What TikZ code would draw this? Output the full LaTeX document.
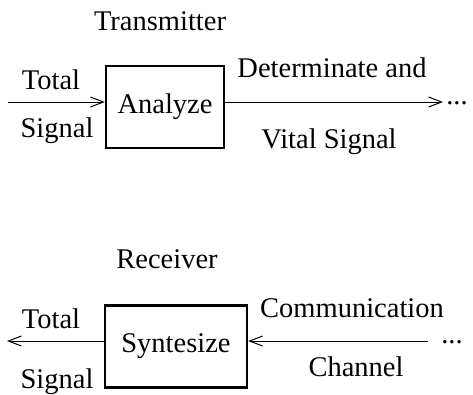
\documentclass[tikz,border=0pt]{standalone}
\usepackage{fontspec}
\setmainfont{Liberation Serif}
\usetikzlibrary{arrows.meta}
\begin{document}
\begin{tikzpicture}[x=1pt,y=-1pt,line width=1pt,
                >={Straight Barb[length=13pt,width=10pt]},
                every node/.style={font=\fontsize{28.5}{34}\selectfont},
                block/.style={draw,line width=2.4pt,minimum width=#1,minimum height=82pt,inner sep=0pt},
                lbl/.style={anchor=base}]
                \useasboundingbox (0,0) rectangle (473,394);

                % transmitter
                \node[lbl] (tx) at(160,30) {Transmitter};
                \node[block=118pt] (analyze) at(165,107) {Analyze};
                \coordinate (tin) at(8,102);
                \coordinate (tout) at(443,102);
                \draw[->](tin)--(tin -| analyze.west);
                \draw[->](analyze.east |- tout)--(tout);
                \node[lbl] (tdots) at(457,104) {...};
                \node[lbl] (ttotal) at(51,89) {Total};
                \node[lbl] (tsignal) at(57,137) {Signal};
                \node[lbl] (det) at(332,77) {Determinate and};
                \node[lbl] (vital) at(329,148) {Vital Signal};

                % receiver
                \node[lbl] (rx) at(167,268) {Receiver};
                \node[block=142pt] (syntesize) at(176,346.5) {Syntesize};
                \coordinate (rin) at(428,341);
                \coordinate (rout) at(7,341);
                \draw[->](rin)--(rin -| syntesize.east);
                \draw[->](syntesize.west |- rout)--(rout);
                \node[lbl] (rdots) at(452,343) {...};
                \node[lbl] (rtotal) at(51,328) {Total};
                \node[lbl] (rsignal) at(57,388) {Signal};
                \node[lbl] (comm) at(352,317) {Communication};
                \node[lbl] (chan) at(356,376) {Channel};
\end{tikzpicture}
\end{document}
